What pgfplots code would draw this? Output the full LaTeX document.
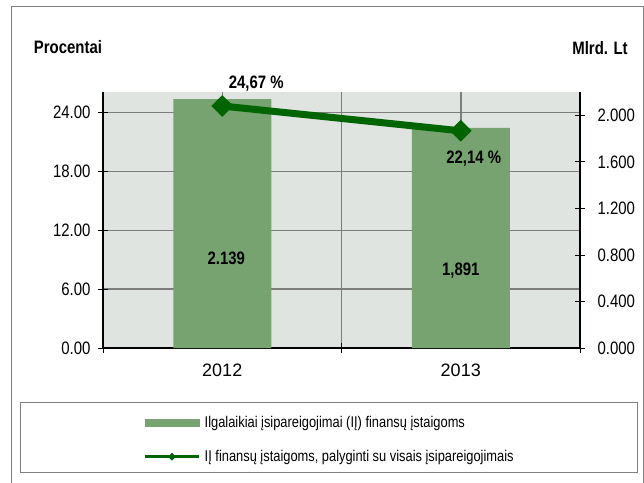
\documentclass[border=0pt]{standalone}
\usepackage{pgfplots}
\pgfplotsset{compat=1.18}
\usepackage{fontspec}
\setmainfont{Liberation Sans}
\newfontfamily\narrow[FakeStretch=0.83]{Liberation Sans}
\definecolor{barc}{RGB}{118,163,111}
\definecolor{linec}{RGB}{0,100,0}
\definecolor{bgc}{RGB}{224,228,224}
\definecolor{gridc}{RGB}{125,125,125}
\definecolor{framec}{RGB}{128,128,128}
\newcommand\nf{\narrow\fontsize{18}{20}\selectfont}
\newcommand\nbf{\narrow\bfseries\fontsize{18}{20}\selectfont}
\begin{document}
\begin{tikzpicture}[x=1pt,y=1pt]
\useasboundingbox (0,0) rectangle (644,482);
\draw[framec, line width=1pt] (11,-10) rectangle (643,475);
\draw[framec, line width=1pt] (20,10) rectangle (637,80);
\node[font=\nbf] at (68,435) {Procentai};
\node[font=\nbf] at (600,434) {Mlrd. Lt};

% axis 1: background, grid, left scale
\begin{axis}[
  at={(103pt,134pt)}, anchor=south west,
  scale only axis, width=477pt, height=256pt,
  xmin=-0.5, xmax=1.5, ymin=0, ymax=26.1,
  axis background/.style={fill=bgc},
  axis x line*=bottom, axis y line*=left,
  axis line style={black, line width=1.2pt},
  xtick={-0.5,0.5,1.5}, xticklabels={,,},
  extra x ticks={0,1}, extra x tick labels={2012,2013},
  extra x tick style={major tick length=0pt, grid=major},
  xmajorgrids, ymajorgrids,
  ytick={0,6,12,18,24},
  grid style={gridc, line width=1.5pt},
  tick align=center, major tick length=10pt,
  tick style={black, line width=0.8pt},
  /pgf/number format/assume math mode=true,
  yticklabel style={font=\nf, xshift=-4pt, /pgf/number format/.cd, fixed, fixed zerofill, precision=2},
  xticklabel style={font=\fontsize{18}{20}\selectfont, yshift=-12pt},
]
\end{axis}

% axis 2: bars, right scale
\begin{axis}[
  at={(103pt,134pt)}, anchor=south west,
  scale only axis, width=477pt, height=256pt,
  xmin=-0.5, xmax=1.5, ymin=0, ymax=2.2,
  axis y line*=right, axis x line=none,
  axis line style={black, line width=1.2pt},
  ytick={0,0.4,0.8,1.2,1.6,2.0},
  tick align=center, major tick length=10pt,
  tick style={black, line width=0.8pt},
  /pgf/number format/assume math mode=true,
  yticklabel style={font=\nf, xshift=9pt, /pgf/number format/.cd, fixed, fixed zerofill, precision=3},
  ybar, bar width=98pt, clip=false,
]
\addplot[fill=barc, draw=none, bar shift=0pt] coordinates {(0,2.139) (1,1.891)};
\node[font=\nbf, xshift=4pt] at (axis cs:0,0.770) {2.139};
\node[font=\nbf] at (axis cs:1,0.667) {1,891};
\end{axis}

% axis 3: line, left scale, legend
\begin{axis}[
  at={(103pt,134pt)}, anchor=south west,
  scale only axis, width=477pt, height=256pt,
  xmin=-0.5, xmax=1.5, ymin=0, ymax=26.1,
  axis lines=none, clip=false,
  legend cell align=left,
  legend style={draw=none, fill=none, at={(0.0776,-0.257)}, anchor=north west,
    font=\narrow\fontsize{15.5}{18}\selectfont,
    column sep=4pt, row sep=21.6pt, nodes={inner sep=0pt}},
]
\addlegendimage{legend image code/.code={\fill[barc] (0pt,-3.5pt) rectangle (54pt,3.5pt);}}
\addlegendentry{Ilgalaikiai įsipareigojimai (IĮ) finansų įstaigoms}
\addplot[linec, line width=7pt, mark=square*, mark size=7.2pt,
  mark options={rotate=45, line width=1pt},
  legend image code/.code={\draw[mark repeat=2, mark phase=2, line width=3.5pt, mark size=2.5pt, mark options={rotate=45,line width=0.5pt}] plot coordinates {(0pt,0pt) (27pt,0pt) (54pt,0pt)};}]
  coordinates {(0,24.67) (1,22.14)};
\addlegendentry{IĮ finansų įstaigoms, palyginti su visais įsipareigojimais}
\node[font=\nbf, xshift=34pt, yshift=22pt] at (axis cs:0,24.67) {24,67 \%};
\node[font=\nbf, xshift=13pt, yshift=-27.6pt] at (axis cs:1,22.14) {22,14 \%};
\end{axis}
\end{tikzpicture}
\end{document}
